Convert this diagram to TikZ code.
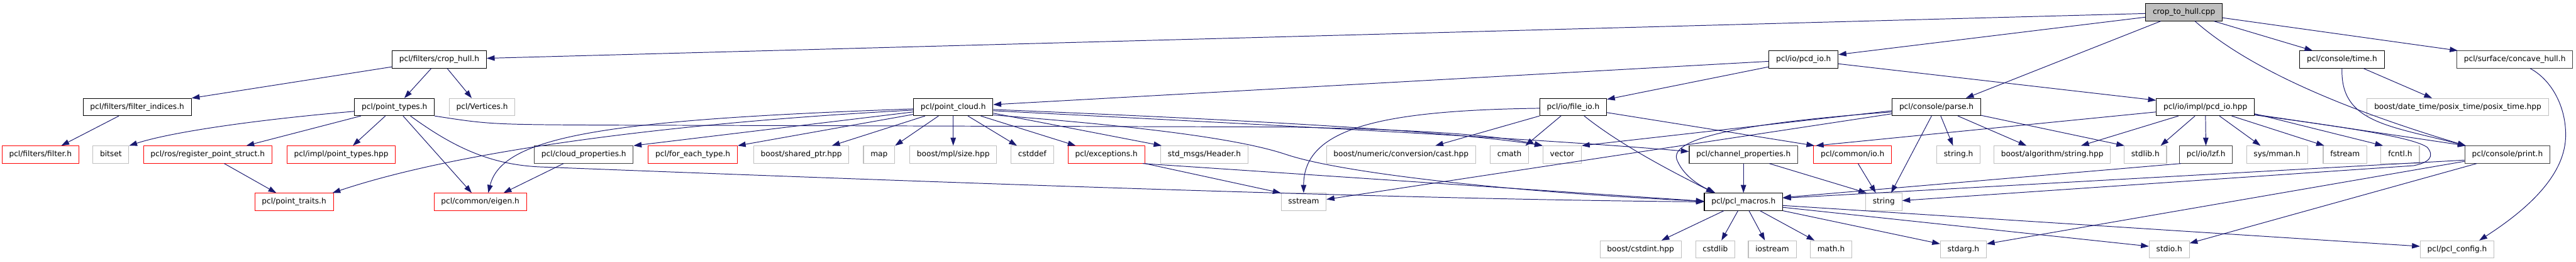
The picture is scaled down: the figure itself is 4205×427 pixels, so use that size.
\documentclass[tikz,border=0pt]{standalone}
\usepackage{fontspec}
\setmainfont{DejaVu Sans}
\usetikzlibrary{arrows.meta}
\definecolor{edgeblue}{HTML}{191970}
\definecolor{greyb}{HTML}{BFBFBF}
\definecolor{darkb}{HTML}{404040}
\definecolor{redb}{HTML}{FF0000}
\begin{document}
\begin{tikzpicture}[x=0.5pt,y=-0.5pt,
  gnode/.style={draw=black, line width=0.55pt, rectangle, inner xsep=5.8pt, inner ysep=0pt,
    minimum height=14pt, font=\fontsize{6.25}{7.5}\selectfont, text height=4.7pt, text depth=1.5pt},
  extn/.style={gnode, draw=greyb},
  trunc/.style={gnode, draw=redb},
  dk/.style={gnode, draw=darkb},
  root/.style={gnode, fill=greyb},
  dep/.style={draw=edgeblue, line width=0.5pt, -{Triangle[length=6.5pt,width=4.4pt]}}]
\useasboundingbox (0,0) rectangle (4205,427);
\fill[white] (0,0) rectangle (4205,427);
% row 0
\node[root] (cpp) at (3565,20) {crop\_to\_hull.cpp};
% row 1
\node[gnode] (crophull) at (717,97) {pcl/filters/crop\_hull.h};
\node[gnode] (pcdio) at (2944,97) {pcl/io/pcd\_io.h};
\node[gnode] (time) at (3823,97) {pcl/console/time.h};
\node[dk] (concave) at (4105,97) {pcl/surface/concave\_hull.h};
% row 2
\node[gnode] (filterindices) at (224,174.5) {pcl/filters/filter\_indices.h};
\node[gnode] (pointtypes) at (644,174.5) {pcl/point\_types.h};
\node[extn] (vertices) at (787,174.5) {pcl/Vertices.h};
\node[gnode] (pointcloud) at (1556,174.5) {pcl/point\_cloud.h};
\node[gnode] (fileio) at (2568,174.5) {pcl/io/file\_io.h};
\node[gnode] (parse) at (3161,174.5) {pcl/console/parse.h};
\node[gnode] (pcdiohpp) at (3600,174.5) {pcl/io/impl/pcd\_io.hpp};
\node[extn] (posix) at (4012,174.5) {boost/date\_time/posix\_time/posix\_time.hpp};
% row 3
\node[trunc] (filter) at (66,252) {pcl/filters/filter.h};
\node[extn] (bitset) at (181,252) {bitset};
\node[trunc] (regps) at (339,252) {pcl/ros/register\_point\_struct.h};
\node[trunc] (implpt) at (557,252) {pcl/impl/point\_types.hpp};
\node[dk] (cloudprop) at (953,252) {pcl/cloud\_properties.h};
\node[trunc] (foreach) at (1131,252) {pcl/for\_each\_type.h};
\node[extn] (sharedptr) at (1308,252) {boost/shared\_ptr.hpp};
\node[extn] (map) at (1435,252) {map};
\node[extn] (mplsize) at (1556,252) {boost/mpl/size.hpp};
\node[extn] (cstddef) at (1685,252) {cstddef};
\node[trunc] (exceptions) at (1806,252) {pcl/exceptions.h};
\node[extn] (header) at (1966,252) {std\_msgs/Header.h};
\node[extn] (cast) at (2287,252) {boost/numeric/conversion/cast.hpp};
\node[extn] (cmath) at (2464,252) {cmath};
\node[extn] (vector) at (2550,252) {vector};
\node[dk] (channel) at (2846,252) {pcl/channel\_properties.h};
\node[trunc] (commonio) at (3024,252) {pcl/common/io.h};
\node[extn] (stringh) at (3197,252) {string.h};
\node[extn] (algostring) at (3350,252) {boost/algorithm/string.hpp};
\node[extn] (stdlib) at (3502,252) {stdlib.h};
\node[dk] (lzf) at (3601,252) {pcl/io/lzf.h};
\node[extn] (mman) at (3717,252) {sys/mman.h};
\node[extn] (fstream) at (3828,252) {fstream};
\node[extn] (fcntl) at (3918,252) {fcntl.h};
\node[dk] (print) at (4093,252) {pcl/console/print.h};
% row 4
\node[trunc] (pointtraits) at (480,329) {pcl/point\_traits.h};
\node[trunc] (eigen) at (784,329) {pcl/common/eigen.h};
\node[extn] (sstream) at (2128,329) {sstream};
\node[gnode] (pclmacros) at (2846,329) {pcl/pcl\_macros.h};
\node[extn] (string) at (3075,329) {string};
% row 5
\node[extn] (cstdint) at (2678,406.5) {boost/cstdint.hpp};
\node[extn] (cstdlib) at (2800,406.5) {cstdlib};
\node[extn] (iostream) at (2893,406.5) {iostream};
\node[extn] (mathh) at (2989,406.5) {math.h};
\node[extn] (stdarg) at (3205,406.5) {stdarg.h};
\node[extn] (stdio) at (3541,406.5) {stdio.h};
\node[extn] (pclconfig) at (4011,406.5) {pcl/pcl\_config.h};
% edges from crop_to_hull.cpp
\draw[dep] ([shift={(0,2)}]cpp.west) -- ([shift={(0,-2)}]crophull.east);
\draw[dep] ([shift={(0,8)}]cpp.west) -- ([shift={(0,-8)}]pcdio.east);
\draw[dep] ([shift={(-38,0)}]cpp.south) -- ([shift={(48,0)}]parse.north);
\draw[dep] ([shift={(18,0)}]cpp.south) .. controls (3680,120) and (3850,185) .. ([shift={(2,0)}]print.north west);
\draw[dep] ([shift={(49,0)}]cpp.south) -- ([shift={(-48,0)}]time.north);
\draw[dep] ([shift={(0,9)}]cpp.east) -- ([shift={(2,0)}]concave.north west);
% crop_hull.h
\draw[dep] ([shift={(0,12)}]crophull.west) -- (filterindices.north east);
\draw[dep] ([shift={(-13,0)}]crophull.south) -- ([shift={(16,0)}]pointtypes.north);
\draw[dep] ([shift={(13,0)}]crophull.south) -- ([shift={(-17,0)}]vertices.north);
\draw[dep] ([shift={(-30,0)}]filterindices.south) -- ([shift={(34,0)}]filter.north);
% point_types.h
\draw[dep] ([shift={(0,7)}]pointtypes.west) .. controls (420,195) and (280,215) .. (bitset.north east);
\draw[dep] ([shift={(-55,0)}]pointtypes.south) -- ([shift={(63,0)}]regps.north);
\draw[dep] ([shift={(-15,0)}]pointtypes.south) -- ([shift={(19,0)}]implpt.north);
\draw[dep] ([shift={(14,0)}]pointtypes.south) -- ([shift={(-14,0)}]eigen.north);
\draw[dep] ([shift={(26,0)}]pointtypes.south) .. controls (740,240) and (800,268) .. (880,272) .. controls (1600,300) and (2300,325) .. (pclmacros.west);
\draw[dep] (pointtypes.south east) .. controls (800,203) .. (1000,204) -- (2100,207) .. controls (2350,212) and (2450,222) .. (vector.north west);
\draw[dep] ([shift={(27,0)}]regps.south) -- ([shift={(-29,0)}]pointtraits.north);
% pcd_io.h
\draw[dep] ([shift={(0,3)}]pcdio.west) -- ([shift={(0,-4)}]pointcloud.east);
\draw[dep] ([shift={(0,12)}]pcdio.west) -- ([shift={(0,2)}]fileio.north east);
\draw[dep] ([shift={(0,7)}]pcdio.east) -- ([shift={(0,-11)}]pcdiohpp.west);
% point_cloud.h
\draw[dep] ([shift={(0,3)}]pointcloud.west) .. controls (1000,195) and (820,220) .. ([shift={(13,0)}]eigen.north);
\draw[dep] ([shift={(0,5)}]pointcloud.west) .. controls (1100,200) and (750,245) .. ([shift={(-2,0)}]pointtraits.north east);
\draw[dep] ([shift={(0,8)}]pointcloud.west) -- (cloudprop.north east);
\draw[dep] ([shift={(0,12)}]pointcloud.west) -- (foreach.north east);
\draw[dep] ([shift={(-46,0)}]pointcloud.south) -- ([shift={(50,0)}]sharedptr.north);
\draw[dep] ([shift={(-24,0)}]pointcloud.south) -- (map.north east);
\draw[dep] (pointcloud) -- (mplsize);
\draw[dep] ([shift={(24,0)}]pointcloud.south) -- ([shift={(-25,0)}]cstddef.north);
\draw[dep] ([shift={(45,0)}]pointcloud.south) -- ([shift={(-50,0)}]exceptions.north);
\draw[dep] ([shift={(0,10)}]pointcloud.east) -- ([shift={(2,0)}]header.north west);
\draw[dep] ([shift={(0,4)}]pointcloud.east) .. controls (1900,190) and (2350,210) .. (vector.north west);
\draw[dep] ([shift={(0,6)}]pointcloud.east) .. controls (2000,200) and (2500,225) .. ([shift={(0,-5)}]channel.west);
\draw[dep] ([shift={(0,13)}]pointcloud.east) .. controls (1850,205) and (2020,225) .. (2100,252) .. controls (2200,285) and (2500,315) .. ([shift={(0,-1)}]pclmacros.west);
\draw[dep] ([shift={(-33,0)}]cloudprop.south) -- ([shift={(38,0)}]eigen.north);
% exceptions.h
\draw[dep] (exceptions.south east) -- (sstream.north west);
\draw[dep] ([shift={(-4,0)}]exceptions.south east) -- ([shift={(0,-1)}]pclmacros.west);
% file_io.h
\draw[dep] ([shift={(0,2)}]fileio.west) .. controls (2250,180) and (2128,210) .. (sstream.north);
\draw[dep] (fileio.south west) -- ([shift={(56,0)}]cast.north);
\draw[dep] ([shift={(-20,0)}]fileio.south) -- ([shift={(26,0)}]cmath.north);
\draw[dep] ([shift={(18,0)}]fileio.south) .. controls (2650,240) and (2740,285) .. ([shift={(-48,0)}]pclmacros.north);
\draw[dep] ([shift={(0,9)}]fileio.east) -- ([shift={(2,0)}]commonio.north west);
% parse.h
\draw[dep] ([shift={(0,11)}]parse.west) -- ([shift={(0,-4)}]sstream.east);
\draw[dep] ([shift={(0,6)}]parse.west) -- (vector.north east);
\draw[dep] ([shift={(0,8)}]parse.west) .. controls (2850,200) and (2720,225) .. (2738,262) .. controls (2750,290) and (2780,305) .. ([shift={(-46,0)}]pclmacros.north);
\draw[dep] ([shift={(-8,0)}]parse.south) -- ([shift={(12,0)}]string.north);
\draw[dep] ([shift={(7,0)}]parse.south) -- ([shift={(-9,0)}]stringh.north);
\draw[dep] ([shift={(35,0)}]parse.south) -- ([shift={(-42,0)}]algostring.north);
\draw[dep] ([shift={(0,-1)}]parse.south east) -- ([shift={(1,0)}]stdlib.north west);
% channel / common io
\draw[dep] (channel) -- (pclmacros);
\draw[dep] ([shift={(42,0)}]channel.south) -- ([shift={(2,0)}]string.north west);
\draw[dep] ([shift={(9,0)}]commonio.south) -- ([shift={(-13,0)}]string.north);
% pcd_io.hpp
\draw[dep] ([shift={(0,8)}]pcdiohpp.west) -- ([shift={(4,0)}]commonio.north west);
\draw[dep] ([shift={(-44,0)}]pcdiohpp.south) -- ([shift={(47,0)}]algostring.north);
\draw[dep] ([shift={(-17,0)}]pcdiohpp.south) -- ([shift={(25,0)}]stdlib.north);
\draw[dep] (pcdiohpp) -- (lzf);
\draw[dep] ([shift={(23,0)}]pcdiohpp.south) -- ([shift={(-27,0)}]mman.north);
\draw[dep] ([shift={(43,0)}]pcdiohpp.south) -- ([shift={(-34,0)}]fstream.north);
\draw[dep] ([shift={(0,11)}]pcdiohpp.east) -- ([shift={(-28,0)}]fcntl.north);
\draw[dep] ([shift={(0,12)}]pcdiohpp.east) -- ([shift={(2,0)}]print.north west);
\draw[dep] ([shift={(0,13)}]pcdiohpp.east) .. controls (3850,210) and (3940,225) .. (3962,240) .. controls (3975,255) and (3965,265) .. (3940,270) -- ([shift={(0,-2)}]string.east);
\draw[dep] ([shift={(3,0)}]lzf.south west) -- ([shift={(0,-7)}]pclmacros.east);
% print.h
\draw[dep] ([shift={(0,9)}]print.west) -- ([shift={(0,-6)}]pclmacros.east);
\draw[dep] ([shift={(0,11)}]print.west) -- ([shift={(0,-9)}]stdarg.east);
\draw[dep] ([shift={(-50,0)}]print.south) -- ([shift={(0,-10)}]stdio.east);
% time.h, concave_hull.h
\draw[dep] (time.south) .. controls (3820,200) and (3900,205) .. ([shift={(2,0)}]print.north west);
\draw[dep] ([shift={(35,0)}]time.south) -- ([shift={(-42,0)}]posix.north);
\draw[dep] ([shift={(25,0)}]concave.south) .. controls (4165,130) and (4190,175) .. (4188,225) .. controls (4185,290) and (4120,345) .. ([shift={(36,0)}]pclconfig.north);
% pcl_macros.h
\draw[dep] ([shift={(-32,0)}]pclmacros.south) -- ([shift={(34,0)}]cstdint.north);
\draw[dep] ([shift={(-9,0)}]pclmacros.south) -- ([shift={(10,0)}]cstdlib.north);
\draw[dep] ([shift={(9,0)}]pclmacros.south) -- ([shift={(-12,0)}]iostream.north);
\draw[dep] ([shift={(27,0)}]pclmacros.south) -- ([shift={(-27,0)}]mathh.north);
\draw[dep] (pclmacros.south east) -- ([shift={(0,-9)}]stdarg.west);
\draw[dep] ([shift={(0,9)}]pclmacros.east) -- ([shift={(0,-5)}]stdio.west);
\draw[dep] ([shift={(0,6)}]pclmacros.east) -- ([shift={(0,-5)}]pclconfig.west);
\end{tikzpicture}
\end{document}
